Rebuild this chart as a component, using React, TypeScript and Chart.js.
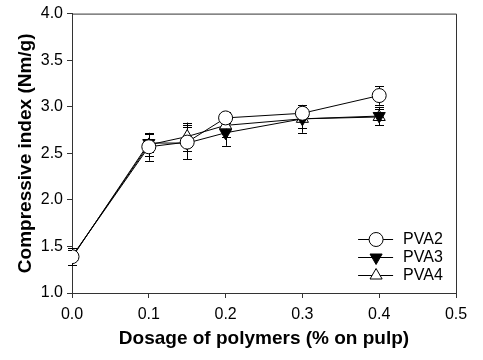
import React, { useEffect, useRef } from "react";
import { Chart, registerables } from "chart.js";

Chart.register(...registerables);

const dosage = [0, 0.1, 0.15, 0.2, 0.3, 0.4];
const pva2 = [1.39, 2.57, 2.62, 2.88, 2.93, 3.12];
const pva2Err = [0.09, 0.15, 0.18, 0.06, 0.07, 0.1];
const pva3 = [1.38, 2.61, 2.61, 2.72, 2.87, 2.9];
const pva3Err = [0.08, 0.1, 0.17, 0.14, 0.15, 0.1];
const pva4 = [1.39, 2.59, 2.68, 2.8, 2.87, 2.89];
const pva4Err = [0.09, 0.12, 0.15, 0.12, 0.1, 0.09];
const seriesNames = ["PVA2", "PVA3", "PVA4"];
const xTicks = [0, 0.1, 0.2, 0.3, 0.4, 0.5];
const yTicks = [1.0, 1.5, 2.0, 2.5, 3.0, 3.5, 4.0];

const FONT = "'Liberation Sans', Arial, Helvetica, sans-serif";
const AXIS_COLOR = "#333";

type Marker = { style: "circle" | "triangle"; rotation: number; fill: string };
const markers: Marker[] = [
  { style: "circle", rotation: 0, fill: "#ffffff" },
  { style: "triangle", rotation: 180, fill: "#000000" },
  { style: "triangle", rotation: 0, fill: "#ffffff" },
];
const errs = [pva2Err, pva3Err, pva4Err];

function drawMarker(ctx: CanvasRenderingContext2D, m: Marker, x: number, y: number, r: number) {
  ctx.save();
  ctx.beginPath();
  if (m.style === "circle") {
    ctx.arc(x, y, r, 0, Math.PI * 2);
  } else {
    let rad = (m.rotation * Math.PI) / 180;
    ctx.moveTo(x + Math.sin(rad) * r, y - Math.cos(rad) * r);
    rad += (2 * Math.PI) / 3;
    ctx.lineTo(x + Math.sin(rad) * r, y - Math.cos(rad) * r);
    rad += (2 * Math.PI) / 3;
    ctx.lineTo(x + Math.sin(rad) * r, y - Math.cos(rad) * r);
    ctx.closePath();
  }
  ctx.fillStyle = m.fill;
  ctx.fill();
  ctx.strokeStyle = "#000";
  ctx.lineWidth = 1;
  ctx.stroke();
  ctx.restore();
}

const errorBarPlugin = {
  id: "errorBars",
  beforeDatasetsDraw(chart: any) {
    const ctx = chart.ctx;
    const yScale = chart.scales.y;
    ctx.save();
    ctx.strokeStyle = "#000";
    ctx.lineWidth = 1;
    chart.data.datasets.forEach((ds: any, di: number) => {
      const meta = chart.getDatasetMeta(di);
      meta.data.forEach((pt: any, i: number) => {
        const v = ds.data[i].y;
        const e = errs[di][i];
        const x = Math.round(pt.x) + 0.5;
        const yTop = yScale.getPixelForValue(v + e);
        const yBot = yScale.getPixelForValue(v - e);
        ctx.beginPath();
        ctx.moveTo(x, yTop);
        ctx.lineTo(x, yBot);
        ctx.moveTo(x - 4.5, Math.round(yTop) + 0.5);
        ctx.lineTo(x + 4.5, Math.round(yTop) + 0.5);
        ctx.moveTo(x - 4.5, Math.round(yBot) + 0.5);
        ctx.lineTo(x + 4.5, Math.round(yBot) + 0.5);
        ctx.stroke();
      });
    });
    ctx.restore();
  },
};

const framePlugin = {
  id: "frame",
  afterDraw(chart: any) {
    const { ctx, chartArea } = chart;
    ctx.save();
    ctx.strokeStyle = AXIS_COLOR;
    ctx.lineWidth = 1;
    ctx.beginPath();
    ctx.moveTo(chartArea.left, chartArea.top + 0.5);
    ctx.lineTo(chartArea.right + 0.5, chartArea.top + 0.5);
    ctx.lineTo(chartArea.right + 0.5, chartArea.bottom);
    ctx.stroke();
    // legend
    const lx = chartArea.left + (chartArea.right - chartArea.left) * 0.745;
    const ys = [239, 257, 275];
    ctx.font = `16px ${FONT}`;
    ctx.textBaseline = "middle";
    ctx.textAlign = "left";
    ys.forEach((yy, i) => {
      ctx.strokeStyle = "#000";
      ctx.beginPath();
      ctx.moveTo(lx, yy + 0.5);
      ctx.lineTo(lx + 35, yy + 0.5);
      ctx.stroke();
      drawMarker(ctx, markers[i], lx + 18, yy + 0.5, 7);
      ctx.fillStyle = "#000";
      ctx.fillText(seriesNames[i], lx + 45, yy + 1);
    });
    ctx.restore();
  },
};

export default function App() {
  const ref = useRef<HTMLCanvasElement | null>(null);
  useEffect(() => {
    if (!ref.current) return;
    const mk = (vals: number[]) => dosage.map((x, i) => ({ x, y: vals[i] }));
    const all = [pva2, pva3, pva4];
    const chart = new Chart(ref.current, {
      type: "line",
      data: {
        datasets: all.map((vals, i) => ({
          label: seriesNames[i],
          data: mk(vals),
          borderColor: "#000",
          borderWidth: 1,
          backgroundColor: markers[i].fill,
          pointStyle: markers[i].style,
          pointRotation: markers[i].rotation,
          pointRadius: 7,
          pointBackgroundColor: markers[i].fill,
          pointBorderColor: "#000",
          pointBorderWidth: 1,
          tension: 0,
          fill: false,
        })),
      },
      options: {
        animation: false,
        responsive: false,
        maintainAspectRatio: false,
        layout: { padding: { top: 13, right: 27, left: 0, bottom: 0 } },
        plugins: { legend: { display: false }, tooltip: { enabled: false } },
        scales: {
          x: {
            type: "linear",
            min: 0,
            max: 0.5,
            afterBuildTicks: (s: any) => {
              s.ticks = xTicks.map((v) => ({ value: v }));
            },
            afterFit: (s: any) => {
              s.height = 67;
            },
            grid: { drawOnChartArea: false, tickLength: 5, color: AXIS_COLOR },
            border: { color: AXIS_COLOR, width: 1 },
            ticks: {
              color: "#000",
              padding: 7,
              maxRotation: 0,
              font: { family: FONT, size: 16 },
              callback: (v: any) => Number(v).toFixed(1),
            },
            title: {
              display: true,
              text: "Dosage of polymers (% on pulp)",
              color: "#000",
              font: { family: FONT, size: 19, weight: "bold" },
              padding: { top: 0, bottom: 10 },
            },
          },
          y: {
            type: "linear",
            min: 1,
            max: 4,
            afterBuildTicks: (s: any) => {
              s.ticks = yTicks.map((v) => ({ value: v }));
            },
            afterFit: (s: any) => {
              s.width = 72;
            },
            grid: { drawOnChartArea: false, tickLength: 5, color: AXIS_COLOR },
            border: { color: AXIS_COLOR, width: 1 },
            ticks: {
              color: "#000",
              padding: 4,
              font: { family: FONT, size: 16 },
              callback: (v: any) => Number(v).toFixed(1),
            },
            title: {
              display: true,
              text: "Compressive index (Nm/g)",
              color: "#000",
              font: { family: FONT, size: 19, weight: "bold" },
              padding: { top: 14, bottom: 0 },
            },
          },
        },
      },
      plugins: [errorBarPlugin, framePlugin],
    } as any);
    return () => chart.destroy();
  }, []);
  return (
    <div style={{ position: "absolute", left: 0, top: 0, width: 483, height: 360, background: "#fff" }}>
      <canvas ref={ref} width={483} height={360} style={{ width: 483, height: 360 }} />
    </div>
  );
}
